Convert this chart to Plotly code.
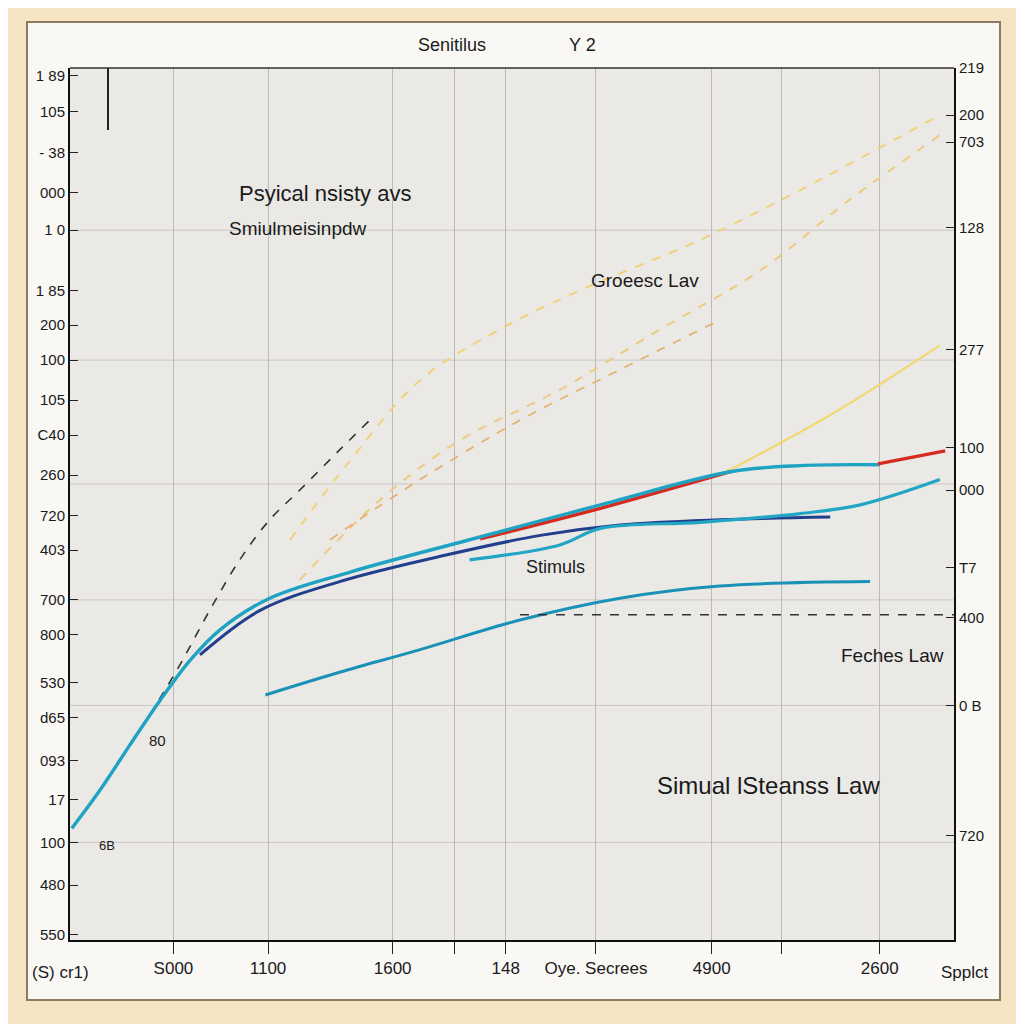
import plotly.graph_objects as go

# ---------------- data ----------------
teal_a_x = [0.2, 3.4, 6.8, 10.2, 13.6, 17.0, 22.6, 31.7, 45.2, 60.0, 74.7, 82.6, 91.6]
teal_a_y = [12.8, 17.2, 22.4, 27.5, 32.1, 35.6, 39.2, 42.2, 45.9, 49.9, 53.7, 54.4, 54.5]

red_a_x = [46.4, 60.0, 74.7]
red_a_y = [46.0, 49.5, 53.7]
red_b_x = [91.4, 99.0]
red_b_y = [54.6, 56.1]

blue_x = [14.7, 21.5, 30.5, 41.9, 53.2, 62.2, 73.5, 86.0]
blue_y = [32.7, 37.8, 41.1, 44.0, 46.4, 47.6, 48.2, 48.5]

teal_b_x = [45.2, 55.4, 60.0, 71.3, 82.6, 89.4, 98.4]
teal_b_y = [43.6, 45.3, 47.2, 47.9, 48.9, 49.9, 52.8]

teal_c_x = [22.1, 30.5, 39.6, 50.9, 62.2, 73.5, 90.5]
teal_c_y = [28.1, 30.7, 33.3, 36.7, 39.2, 40.6, 41.1]

fech_x = [5.7, 9.0, 12.4, 15.8, 19.2, 22.6, 26.0, 30.5, 33.9]
fech_y = [20.6, 25.8, 31.5, 37.8, 43.6, 48.2, 51.6, 56.2, 59.6]

yel1_x = [24.9, 31.7, 39.6, 48.6, 57.7, 71.3, 82.6, 98.4]
yel1_y = [45.9, 55.0, 64.2, 70.0, 74.5, 80.3, 86.0, 94.6]

yel2_x = [26.0, 35.1, 44.1, 55.4, 66.7, 78.1, 88.2, 98.4]
yel2_y = [41.3, 50.5, 57.3, 63.1, 70.0, 76.8, 84.9, 92.3]

yel3_x = [29.4, 39.6, 50.9, 62.2, 73.5]
yel3_y = [45.9, 52.8, 59.6, 65.4, 71.1]

yel_solid_x = [73.5, 86.0, 98.4]
yel_solid_y = [53.3, 60.2, 68.2]

ref_x = [50.9, 100.0]
ref_y = [37.3, 37.3]

x_tick_vals = [11.7, 22.4, 36.5, 43.5, 49.3, 59.5, 72.6, 80.5, 91.6]
x_tick_text = ["S000", "1100", "1600", "", "148", "Oye. Secrees", "4900", "", "2600"]

y_tick_vals = [99.1, 95.0, 90.3, 85.7, 81.4, 74.5, 70.5, 66.5, 61.9, 57.9, 53.3,
               48.7, 44.7, 39.0, 35.0, 29.5, 25.5, 20.6, 16.1, 11.2, 6.3, 0.6]
y_tick_text = ["1 89", "105", "- 38", "000", "1 0", "1 85", "200", "100", "105", "C40", "260",
               "720", "403", "700", "800", "530", "d65", "093", "17", "100", "480", "550"]

y2_tick_vals = [100, 94.6, 91.5, 81.7, 67.7, 56.5, 51.6, 42.7, 37.0, 26.9, 12.0]
y2_tick_text = ["219", "200", "703", "128", "277", "100", "000", "T7", "400", "0 B", "720"]

h_grid = [81.4, 66.5, 52.3, 39.0, 26.9, 11.2]

FONT = "Liberation Sans, Arial, sans-serif"

fig = go.Figure()

def line(x, y, color, width=2.5, dash="solid"):
    fig.add_trace(go.Scatter(x=x, y=y, mode="lines", line=dict(color=color, width=width, dash=dash,
                                                                shape="spline"),
                             showlegend=False, hoverinfo="skip"))

line(yel1_x, yel1_y, "#f0d27a", 2, "dash")
line(yel2_x, yel2_y, "#eccb80", 2, "dash")
line(yel3_x, yel3_y, "#e8b070", 1.8, "dash")
line(yel_solid_x, yel_solid_y, "#f3d870", 2.2)
line(fech_x, fech_y, "#333333", 1.6, "dash")
line(teal_c_x, teal_c_y, "#1a92b8", 3)
line(blue_x, blue_y, "#213f8c", 3)
line(teal_b_x, teal_b_y, "#22a6c4", 3.2)
line(red_a_x, red_a_y, "#d62a1e", 3.4)
line(teal_a_x, teal_a_y, "#1ea3c2", 3.4)
line(red_b_x, red_b_y, "#d62a1e", 3.4)
fig.add_trace(go.Scatter(x=ref_x, y=ref_y, mode="lines",
                         line=dict(color="#333333", width=1.4, dash="dash"),
                         showlegend=False, hoverinfo="skip"))
# invisible trace for the right axis
fig.add_trace(go.Scatter(x=[0], y=[0], yaxis="y2", mode="markers", marker=dict(opacity=0),
                         showlegend=False, hoverinfo="skip"))

def px(x):
    return (x - 70) / 884

def py(y):
    return (940 - y) / 872

shapes = [
    dict(type="rect", xref="paper", yref="paper", x0=px(27), x1=px(1000), y0=py(1000), y1=py(22),
         fillcolor="#f9f8f5", line=dict(color="#8c7b5e", width=2), layer="below"),
    dict(type="rect", xref="paper", yref="paper", x0=0, x1=1, y0=0, y1=1,
         fillcolor="#ebe9e6", line=dict(width=0), layer="below"),
    dict(type="line", xref="paper", yref="paper", x0=px(108), x1=px(108), y0=py(68), y1=py(130),
         line=dict(color="#222222", width=2)),
]
for gy in h_grid:
    shapes.append(dict(type="line", xref="paper", yref="y", x0=0, x1=1, y0=gy, y1=gy,
                       line=dict(color="#c9c6c2", width=1), layer="below"))

annotations = [
    dict(text="Senitilus", x=px(452), y=py(45)),
    dict(text="Y 2", x=px(582), y=py(45)),
    dict(text="Psyical nsisty avs", x=px(325), y=py(193), size=22),
    dict(text="Smiulmeisinpdw", x=px(298), y=py(228), size=19),
    dict(text="Groeesc Lav", x=px(645), y=py(280), size=19),
    dict(text="Stimuls", x=px(555), y=py(567), size=18),
    dict(text="Feches Law", x=px(892), y=py(655), size=19),
    dict(text="Simual lSteanss Law", x=px(768), y=py(785), size=24),
    dict(text="80", x=px(157), y=py(740), size=15),
    dict(text="6B", x=px(107), y=py(845), size=13),
    dict(text="(S) cr1)", x=px(60), y=py(972), size=17),
    dict(text="Spplct", x=px(965), y=py(972), size=17),
]
ann = []
for a in annotations:
    ann.append(dict(text=a["text"], x=a["x"], y=a["y"], xref="paper", yref="paper", showarrow=False,
                    xanchor="center", yanchor="middle",
                    font=dict(family=FONT, size=a.get("size", 18), color="#1a1a1a")))

fig.update_layout(
    width=1024, height=1024,
    margin=dict(l=62, r=78, t=60, b=92),
    paper_bgcolor="#f5e4c4",
    plot_bgcolor="rgba(0,0,0,0)",
    font=dict(family=FONT, size=15, color="#1a1a1a"),
    shapes=shapes,
    annotations=ann,
    xaxis=dict(range=[0, 100], tickvals=x_tick_vals, ticktext=x_tick_text,
               showgrid=True, gridcolor="#bdbab6", gridwidth=1, zeroline=False,
               showline=True, linecolor="#111111", linewidth=2, mirror=False,
               ticks="outside", ticklen=12, tickcolor="#222222",
               tickfont=dict(size=17, family=FONT)),
    yaxis=dict(range=[0, 100], tickvals=y_tick_vals, ticktext=y_tick_text,
               showgrid=False, zeroline=False, showline=True, linecolor="#111111", linewidth=2,
               ticks="inside", ticklen=8, tickcolor="#222222",
               tickfont=dict(size=15, family=FONT)),
    yaxis2=dict(range=[0, 100], overlaying="y", side="right", tickvals=y2_tick_vals,
                ticktext=y2_tick_text, showgrid=False, zeroline=False, showline=True,
                linecolor="#111111", linewidth=2, ticks="inside", ticklen=8,
                tickcolor="#222222", tickfont=dict(size=15, family=FONT)),
)
fig.add_shape(type="line", xref="paper", yref="paper", x0=0, x1=1, y0=1, y1=1,
              line=dict(color="#333333", width=1.5))

fig.write_html("out.html")
